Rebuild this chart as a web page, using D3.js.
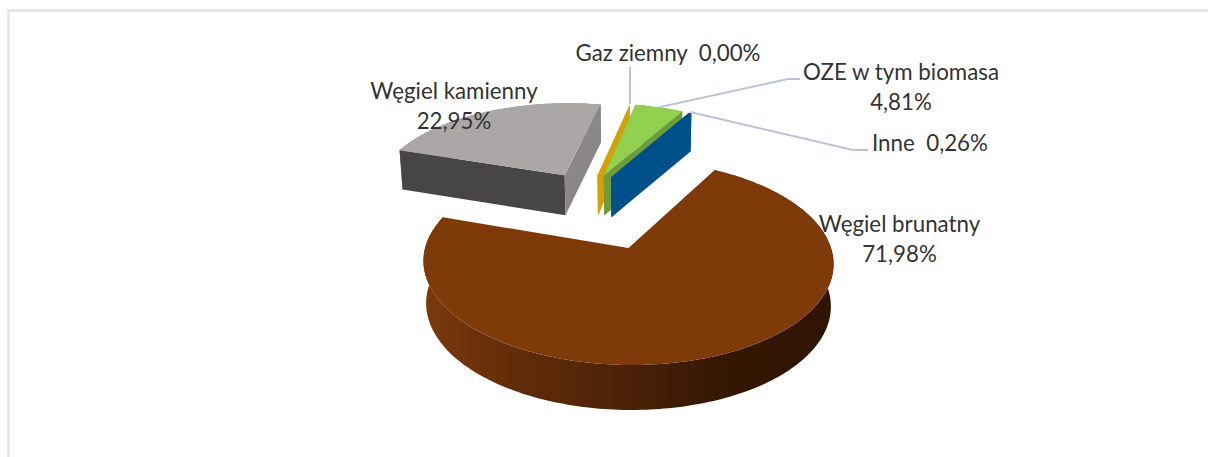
<!DOCTYPE html>
<html lang="pl">
<head>
<meta charset="utf-8">
<script src="https://cdnjs.cloudflare.com/ajax/libs/d3/7.8.5/d3.min.js"></script>
<style>
html,body{margin:0;padding:0;background:#fff;overflow:hidden}
text{font-family:Lato,"Open Sans",sans-serif;font-size:22.3px;fill:#333}
</style>
</head>
<body>
<svg id="c" width="1208" height="457"></svg>
<script>
// ---- data ----
const categories = ["Węgiel brunatny", "Węgiel kamienny", "Gaz ziemny", "OZE w tym biomasa", "Inne"];
const shares = [71.98, 22.95, 0.00, 4.81, 0.26];
const shareLabels = ["71,98%", "22,95%", "0,00%", "4,81%", "0,26%"];

// ---- styles ----
const topColors  = ["#7f3a0a", "#aba7a6", "#d4a005", "#92d050", "#00508c"];
const startFaces = ["#5a2a08", "#474545", "#d4a005", "#6e9b3c", "#00508c"];
const endFaces   = ["#5a2a08", "#8a8786", "#d4a005", "#6e9b3c", "#00508c"];
const explodeU   = [0, -0.35, -0.17, -0.135, -0.095];
const explodeV   = [0, -0.80, -0.80, -0.80, -0.78];
const drawOrder  = [1, 2, 3, 4, 0];

// ---- layout ----
const X0 = 628.5, Y0 = 248, A = 203, B = 100.5, K = 0.141, DEPTH = 42, DEPTH_POW = 0.45, SHEAR = 0.008, SHRINK = 0.987;
const startDeg = 28.5;

const svg = d3.select("#c");
const defs = svg.append("defs");
const grad = defs.append("linearGradient").attr("id", "wall")
  .attr("gradientUnits", "userSpaceOnUse").attr("x1", 427).attr("x2", 832).attr("y1", 0).attr("y2", 0);
[[0, "#7a380c"], [0.25, "#5f2b09"], [0.5, "#4a2107"], [0.72, "#351703"], [1, "#2e1402"]]
  .forEach(s => grad.append("stop").attr("offset", s[0]).attr("stop-color", s[1]));

// frame (top and left rules only)
svg.append("path").attr("d", "M8.5,457V10.5H1208").attr("fill", "none")
  .attr("stroke", "#e1e5ea").attr("stroke-width", 2.4);

// perspective projection of the pie plane; z = 0 top surface, z = 1 bottom surface
function project(u, v, z) {
  const w = 1 - K * v;
  const px = A * u / w * (z ? SHRINK : 1);
  const py = B * v / w + DEPTH * z * Math.pow(w, -DEPTH_POW) + SHEAR * (A * u / w);
  return [X0 + px, Y0 + py];
}
const line = d3.line();
const pie = d3.pie().sort(null).value(d => d)
  .startAngle(startDeg * Math.PI / 180).endAngle((startDeg + 360) * Math.PI / 180);
const arcs = pie(shares);

function rimAngles(a0, a1) {
  const n = Math.max(2, Math.ceil((a1 - a0) / 0.02));
  return d3.range(n + 1).map(i => a0 + (a1 - a0) * i / n);
}
const pt = (i, a, r, z) => project(explodeU[i] + r * Math.sin(a), explodeV[i] - r * Math.cos(a), z);

drawOrder.forEach(i => {
  const a = arcs[i], g = svg.append("g");
  const angles = rimAngles(a.startAngle, a.endAngle);
  // outer wall
  const topRim = angles.map(t => pt(i, t, 1, 0));
  const botRim = angles.map(t => pt(i, t, 1, 1)).reverse();
  g.append("path").attr("d", line(topRim.concat(botRim)) + "Z")
    .attr("fill", i === 0 ? "url(#wall)" : endFaces[i]);
  // radial faces
  [[a.startAngle, startFaces[i]], [a.endAngle, endFaces[i]]].forEach(f => {
    if (i === 0) return;
    const q = [pt(i, 0, 0, 0), pt(i, f[0], 1, 0), pt(i, f[0], 1, 1), pt(i, 0, 0, 1)];
    g.append("path").attr("d", line(q) + "Z").attr("fill", f[1]);
  });
  // top surface
  g.append("path").attr("d", line([pt(i, 0, 0, 0)].concat(topRim)) + "Z").attr("fill", topColors[i]);
});

// leader lines
const leaders = [
  [[630, 104], [630, 67]],
  [[660, 107], [788, 79], [800, 79]],
  [[690, 112], [853, 150], [868, 150]]
];
leaders.forEach(l => svg.append("path").attr("d", line(l)).attr("fill", "none")
  .attr("stroke", "#b9c5d6").attr("stroke-width", 2));

// labels
const labelLayout = [
  {i: 0, x: 899.5, y: 232, two: true},
  {i: 1, x: 454, y: 99, two: true},
  {i: 2, x: 668, y: 60.5, two: false},
  {i: 3, x: 901, y: 80, two: true},
  {i: 4, x: 930, y: 151, two: false}
];
labelLayout.forEach(d => {
  if (d.two) {
    svg.append("text").attr("x", d.x).attr("y", d.y).attr("text-anchor", "middle").text(categories[d.i]);
    svg.append("text").attr("x", d.x).attr("y", d.y + 30).attr("text-anchor", "middle").text(shareLabels[d.i]);
  } else {
    svg.append("text").attr("x", d.x).attr("y", d.y).attr("text-anchor", "middle")
      .attr("xml:space", "preserve").style("white-space", "pre")
      .text(categories[d.i] + "  " + shareLabels[d.i]);
  }
});
</script>
</body>
</html>
